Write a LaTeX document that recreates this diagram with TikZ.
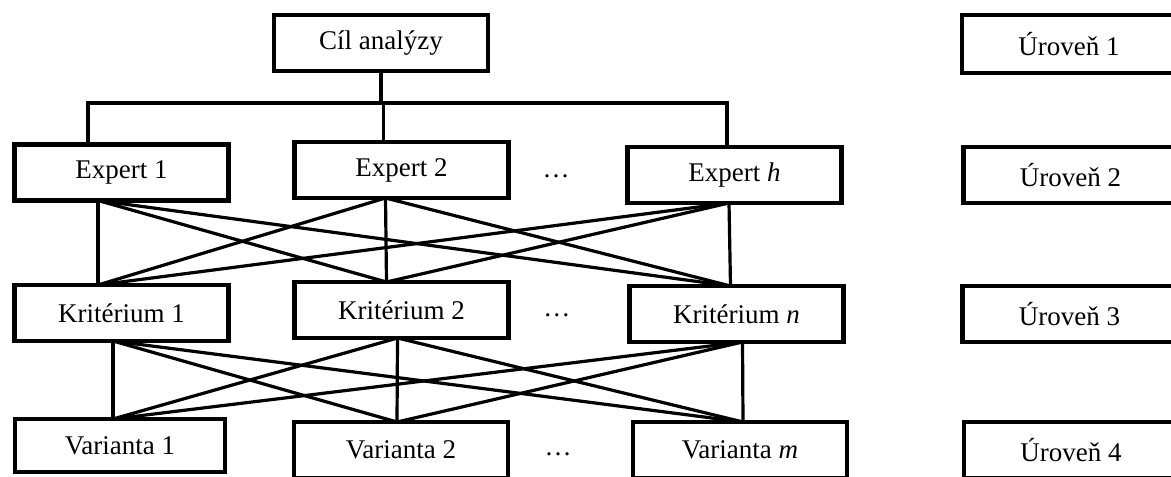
\documentclass[tikz,border=0pt]{standalone}
\usepackage{fontspec}
\setmainfont{Liberation Serif}
\usepackage{tikz}
\usetikzlibrary{positioning}
\usetikzlibrary{calc}

\tikzset{
  box/.style={draw, line width=2.2pt, minimum width=107pt, minimum height=28pt,
    inner sep=0pt, outer sep=0pt, font=\fontsize{13.5}{16}\selectfont},
  link/.style={line width=1.6pt},
  gap/.style={inner sep=0pt, yshift=-2pt, font=\fontsize{13.5}{16}\selectfont}
}

\begin{document}
\begin{tikzpicture}[x=0.5pt, y=-0.5pt]

  \useasboundingbox (0,0) rectangle (1171,476);

  % Define nodes
  \node[box] (cil) at (381,43) {Cíl analýzy};

  \node[box] (e1) at (121.5,172.5) {Expert 1};
  \node[box, right=33pt of e1, yshift=1.25pt] (e2) {Expert 2};
  \node[box, right=59.5pt of e2, yshift=-2.5pt] (eh) {Expert \textit{h}};
  \node[gap] (d1) at ($(e2.east)!0.4!(eh.west)$) {\ldots};

  \node[box] (k1) at (121.5,313) {Kritérium 1};
  \node[box, right=33pt of k1, yshift=1.5pt] (k2) {Kritérium 2};
  \node[box, right=60.5pt of k2, yshift=-2pt] (kn) {Kritérium \textit{n}};
  \node[gap] (d2) at ($(k2.east)!0.4!(kn.west)$) {\ldots};

  \node[box, minimum width=105pt, minimum height=26.5pt] (v1) at (120,445.5) {Varianta 1};
  \node[box, right=34.5pt of v1, yshift=-2.25pt] (v2) {Varianta 2};
  \node[box, right=62.5pt of v2] (vm) {Varianta \textit{m}};
  \node[gap] (d3) at ($(v2.east)!0.4!(vm.west)$) {\ldots};

  \node[box, minimum height=29pt] (lvl1) at (1069,44) {Úroveň 1};
  \node[box, right=61pt of eh] (lvl2) {Úroveň 2};
  \node[box, right=59.5pt of kn] (lvl3) {Úroveň 3};
  \node[box, right=58.5pt of vm] (lvl4) {Úroveň 4};

  % Attach points
  \coordinate (bus) at (0,103);
  \coordinate (e1t) at ($(e1.north)+(-33.5,0)$);
  \coordinate (e2t) at ($(e2.north)+(-18,0)$);
  \coordinate (eht) at ($(eh.north)+(-7.5,0)$);
  \coordinate (e1b) at ($(e1.south)+(-23.5,0)$);
  \coordinate (e2b) at ($(e2.south)+(-16,0)$);
  \coordinate (ehb) at ($(eh.south)+(-5.5,0)$);
  \coordinate (k1t) at ($(k1.north)+(-23.5,0)$);
  \coordinate (k2t) at ($(k2.north)+(-15,0)$);
  \coordinate (knt) at ($(kn.north)+(-6,0)$);
  \coordinate (k1b) at ($(k1.south)+(-8.5,0)$);
  \coordinate (k2b) at ($(k2.south)+(-4,0)$);
  \coordinate (knb) at ($(kn.south)+(6,0)$);
  \coordinate (v1t) at ($(v1.north)+(-7,0)$);
  \coordinate (v2t) at ($(v2.north)+(-4,0)$);
  \coordinate (vmt) at ($(vm.north)+(3,0)$);

  % Connect the nodes
  \draw[link] (cil.south) -- (cil.south |- bus);
  \draw[link] (e1t) -- (e1t |- bus) -| (eht);
  \draw[link] (e2t) -- (e2t |- bus);

  \foreach \a in {e1b,e2b,ehb}
    \foreach \b in {k1t,k2t,knt}
      \draw[link] (\a) -- (\b);

  \foreach \a in {k1b,k2b,knb}
    \foreach \b in {v1t,v2t,vmt}
      \draw[link] (\a) -- (\b);

\end{tikzpicture}
\end{document}
